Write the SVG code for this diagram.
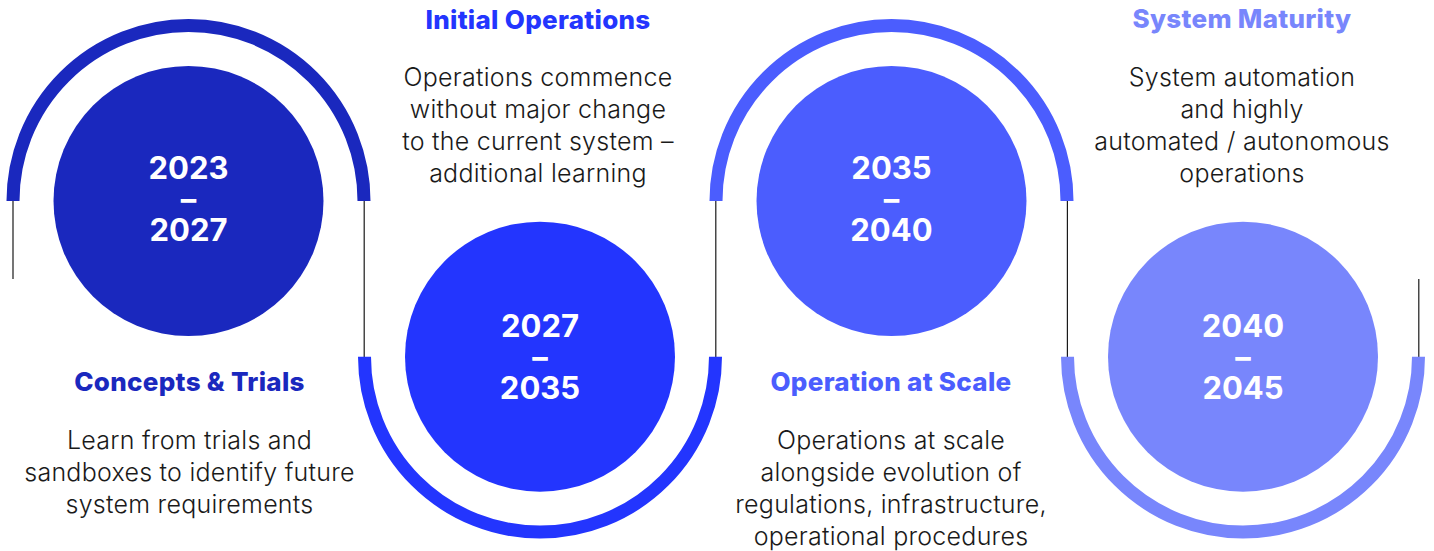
<svg xmlns="http://www.w3.org/2000/svg" width="1434" height="551" viewBox="0 0 1434 551">
  <style>
    .arc { fill: none; stroke-width: 13; stroke-linecap: butt; }
    .link { stroke: #1a1a1a; stroke-width: 1.2; fill: none; }
    .year { font-family: Inter, "Liberation Sans", sans-serif; font-weight: 700; font-size: 31px; fill: #ffffff; text-anchor: middle; }
    .title { font-family: Inter, "Liberation Sans", sans-serif; font-weight: 800; font-size: 26px; letter-spacing: 0.3px; text-anchor: middle; }
    .body { font-family: Inter, "Liberation Sans", sans-serif; font-weight: 300; font-size: 25px; letter-spacing: 0.25px; fill: #1a1a1a; text-anchor: middle; }
    .c1 { fill: #1a28be; } .s1 { stroke: #1a28be; }
    .c2 { fill: #2335fe; } .s2 { stroke: #2335fe; }
    .c3 { fill: #4b5dfe; } .s3 { stroke: #4b5dfe; }
    .c4 { fill: #7886fc; } .s4 { stroke: #7886fc; }
  </style>

  <!-- thin vertical connectors along the arc centre lines -->
  <g id="connectors">
    <line class="link" x1="13" y1="201" x2="13" y2="279"/>
    <line class="link" x1="364.2" y1="201" x2="364.2" y2="357"/>
    <line class="link" x1="715.8" y1="201" x2="715.8" y2="357"/>
    <line class="link" x1="1067.4" y1="201" x2="1067.4" y2="357"/>
    <line class="link" x1="1418.8" y1="279" x2="1418.8" y2="357"/>
  </g>

  <!-- phase 1: 2023–2027 -->
  <g id="phase-2023-2027">
    <path class="arc s1" d="M13,201 A175.5,175.5 0 0 1 364,201"/>
    <circle class="c1" cx="188.5" cy="201" r="135"/>
    <text class="year" x="188.5" y="178.5">2023<tspan x="188.5" dy="31">–</tspan><tspan x="188.5" dy="31">2027</tspan></text>
    <text class="title c1" x="189.5" y="390.5">Concepts &amp; Trials</text>
    <text class="body" x="189.5" y="448.5">Learn from trials and<tspan x="189.5" dy="32">sandboxes to identify future</tspan><tspan x="189.5" dy="32">system requirements</tspan></text>
  </g>

  <!-- phase 2: 2027–2035 -->
  <g id="phase-2027-2035">
    <path class="arc s2" d="M364.5,356.7 A175.5,175.5 0 0 0 715.5,356.7"/>
    <circle class="c2" cx="540" cy="356.7" r="135"/>
    <text class="year" x="540" y="337">2027<tspan x="540" dy="31">–</tspan><tspan x="540" dy="31">2035</tspan></text>
    <text class="title c2" x="538" y="28.5">Initial Operations</text>
    <text class="body" x="538" y="86">Operations commence<tspan x="538" dy="32">without major change</tspan><tspan x="538" dy="32">to the current system –</tspan><tspan x="538" dy="32">additional learning</tspan></text>
  </g>

  <!-- phase 3: 2035–2040 -->
  <g id="phase-2035-2040">
    <path class="arc s3" d="M716,201 A175.5,175.5 0 0 1 1067,201"/>
    <circle class="c3" cx="891.5" cy="201" r="135"/>
    <text class="year" x="891.5" y="178.5">2035<tspan x="891.5" dy="31">–</tspan><tspan x="891.5" dy="31">2040</tspan></text>
    <text class="title c3" x="891" y="390.5">Operation at Scale</text>
    <text class="body" x="891" y="448.5">Operations at scale<tspan x="891" dy="32">alongside evolution of</tspan><tspan x="891" dy="32">regulations, infrastructure,</tspan><tspan x="891" dy="32">operational procedures</tspan></text>
  </g>

  <!-- phase 4: 2040–2045 -->
  <g id="phase-2040-2045">
    <path class="arc s4" d="M1067.5,356.7 A175.5,175.5 0 0 0 1418.5,356.7"/>
    <circle class="c4" cx="1243" cy="356.7" r="135"/>
    <text class="year" x="1243" y="337">2040<tspan x="1243" dy="31">–</tspan><tspan x="1243" dy="31">2045</tspan></text>
    <text class="title c4" x="1242" y="27.5">System Maturity</text>
    <text class="body" x="1242" y="85.5">System automation<tspan x="1242" dy="32">and highly</tspan><tspan x="1242" dy="32">automated / autonomous</tspan><tspan x="1242" dy="32">operations</tspan></text>
  </g>
</svg>
